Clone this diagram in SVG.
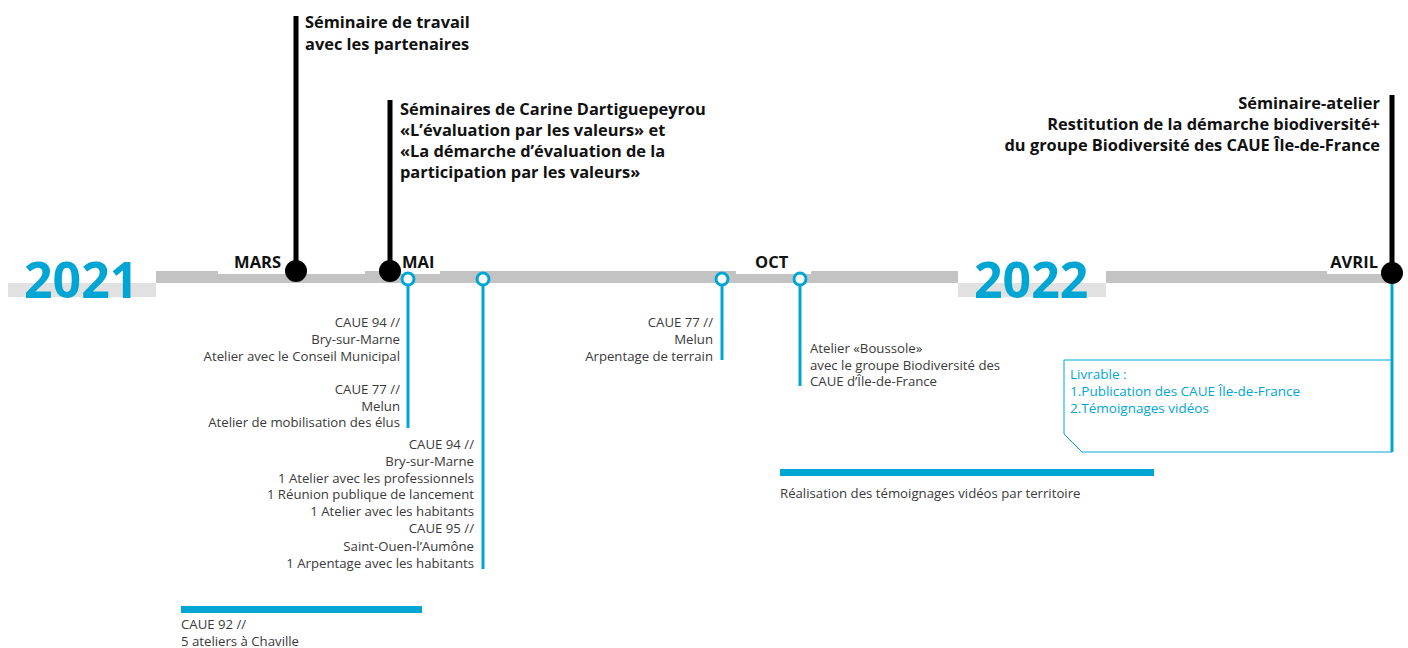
<svg xmlns="http://www.w3.org/2000/svg" width="1408" height="648" viewBox="0 0 1408 648">
<style>
.t{font-family:"Open Sans","Noto Sans",sans-serif;font-size:13.2px;fill:#3a3a3a}
.r{text-anchor:end}
.b{font-family:"Open Sans","Noto Sans",sans-serif;font-size:16.4px;font-weight:700;fill:#111}
.m{font-family:"Open Sans","Noto Sans",sans-serif;font-size:16.5px;font-weight:700;fill:#111}
.yr{font-family:"Open Sans","Noto Sans",sans-serif;font-size:50px;font-weight:700;fill:#00a6d3}
.bl{fill:#00a6d3}
.bt{font-family:"Open Sans","Noto Sans",sans-serif;font-size:13.5px;fill:#00a6d3}
.vline{stroke:#00a6d3;stroke-width:3;fill:none}
.blk{stroke:#000;stroke-width:5;fill:none}
.oc{fill:#fff;stroke:#00a6d3;stroke-width:3}
</style>
<rect width="1408" height="648" fill="#fff"/>
<g id="timeline">
<rect x="156" y="271" width="802" height="12" fill="#c3c3c3"/>
<rect x="1106" y="271" width="286" height="12" fill="#c3c3c3"/>
<rect x="8" y="283" width="148" height="14" fill="#e1e1e1"/>
<rect x="958" y="283" width="148" height="14" fill="#e1e1e1"/>
<rect x="218" y="248" width="147" height="26" fill="#fff"/>
<rect x="396" y="248" width="44" height="26" fill="#fff"/>
<rect x="736" y="248" width="75" height="26" fill="#fff"/>
<rect x="1327" y="248" width="60" height="26" fill="#fff"/>
<text class="yr" x="24" y="298">2021</text>
<text class="yr" x="974" y="298">2022</text>
<text class="m r" x="281" y="268">MARS</text>
<text class="m" x="402" y="268">MAI</text>
<text class="m" x="755" y="268">OCT</text>
<text class="m r" x="1378" y="268">AVRIL</text>
</g>
<g id="connectors">
<line class="blk" x1="296" y1="16" x2="296" y2="271"/>
<line class="blk" x1="390" y1="100" x2="390" y2="271"/>
<line class="blk" x1="1392" y1="95" x2="1392" y2="273"/>
<line class="vline" x1="408" y1="285" x2="408" y2="428"/>
<line class="vline" x1="483" y1="285" x2="483" y2="569"/>
<line class="vline" x1="722" y1="285" x2="722" y2="360"/>
<line class="vline" x1="800" y1="285" x2="800" y2="386"/>
<line class="vline" x1="1392" y1="283" x2="1392" y2="452"/>
</g>
<g id="m-mars"><circle cx="296" cy="271" r="11" fill="#000"/></g>
<g id="m-mai"><circle cx="390" cy="271" r="11" fill="#000"/></g>
<g id="m-avril"><circle cx="1392" cy="273" r="11" fill="#000"/></g>
<g id="c1"><circle class="oc" cx="408" cy="279" r="6"/></g>
<g id="c2"><circle class="oc" cx="483" cy="279" r="6"/></g>
<g id="c3"><circle class="oc" cx="722" cy="279" r="6"/></g>
<g id="c4"><circle class="oc" cx="800" cy="279" r="6"/></g>
<g id="seminaire-travail">
<text class="b" x="305" y="28">Séminaire de travail</text>
<text class="b" x="305" y="50">avec les partenaires</text>
</g>
<g id="seminaires-carine">
<text class="b" x="400" y="115">Séminaires de Carine Dartiguepeyrou</text>
<text class="b" x="400" y="136">«L’évaluation par les valeurs» et</text>
<text class="b" x="400" y="157">«La démarche d’évaluation de la</text>
<text class="b" x="400" y="178">participation par les valeurs»</text>
</g>
<g id="seminaire-atelier">
<text class="b r" x="1380" y="109">Séminaire-atelier</text>
<text class="b r" x="1380" y="130">Restitution de la démarche biodiversité+</text>
<text class="b r" x="1380" y="151">du groupe Biodiversité des CAUE Île-de-France</text>
</g>
<g id="ev-mai">
<text class="t r" x="400" y="327">CAUE 94 //</text>
<text class="t r" x="400" y="344">Bry-sur-Marne</text>
<text class="t r" x="400" y="361">Atelier avec le Conseil Municipal</text>
<text class="t r" x="400" y="394">CAUE 77 //</text>
<text class="t r" x="400" y="411">Melun</text>
<text class="t r" x="400" y="427">Atelier de mobilisation des élus</text>
</g>
<g id="ev-juin">
<text class="t r" x="474" y="449">CAUE 94 //</text>
<text class="t r" x="474" y="466">Bry-sur-Marne</text>
<text class="t r" x="474" y="483">1 Atelier avec les professionnels</text>
<text class="t r" x="474" y="499">1 Réunion publique de lancement</text>
<text class="t r" x="474" y="516">1 Atelier avec les habitants</text>
<text class="t r" x="474" y="533">CAUE 95 //</text>
<text class="t r" x="474" y="551">Saint-Ouen-l’Aumône</text>
<text class="t r" x="474" y="568">1 Arpentage avec les habitants</text>
</g>
<g id="ev-sept">
<text class="t r" x="713" y="327">CAUE 77 //</text>
<text class="t r" x="713" y="344">Melun</text>
<text class="t r" x="713" y="361">Arpentage de terrain</text>
</g>
<g id="ev-oct">
<text class="t" x="810" y="353">Atelier «Boussole»</text>
<text class="t" x="810" y="370">avec le groupe Biodiversité des</text>
<text class="t" x="810" y="386">CAUE d’Île-de-France</text>
</g>
<g id="livrable">
<path d="M1392 360 H1064 V434 L1082 452 H1392" fill="none" stroke="#00a6d3" stroke-width="1"/>
<text class="bt" x="1070" y="379">Livrable :</text>
<text class="bt" x="1070" y="396">1.Publication des CAUE Île-de-France</text>
<text class="bt" x="1070" y="413">2.Témoignages vidéos</text>
</g>
<g id="videos">
<rect class="bl" x="780" y="469" width="374" height="7"/>
<text class="t" x="780" y="498">Réalisation des témoignages vidéos par territoire</text>
</g>
<g id="chaville">
<rect class="bl" x="181" y="606" width="241" height="7"/>
<text class="t" x="181" y="629">CAUE 92 //</text>
<text class="t" x="181" y="646">5 ateliers à Chaville</text>
</g>
</svg>
